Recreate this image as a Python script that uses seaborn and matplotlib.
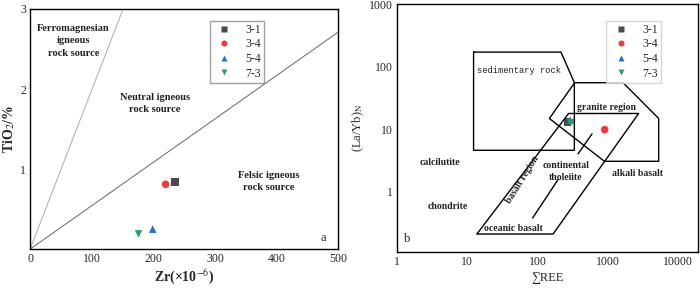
import numpy as np
import pandas as pd
import seaborn as sns
import matplotlib.pyplot as plt

sns.set_style("white")
plt.rcParams['font.family'] = ['Liberation Serif', 'DejaVu Serif']
plt.rcParams['mathtext.fontset'] = 'stix'

# Samples
samples = ['3-1', '3-4', '5-4', '7-3']
colors = ['#4a4a4a', '#ee3b3b', '#1f6fd6', '#26a269']
markers = ['s', 'o', '^', 'v']

# panel a: Zr vs TiO2
zr = [235, 220, 199, 176]
tio2 = [0.84, 0.81, 0.25, 0.19]

# panel b: sum REE vs (La/Yb)N
ree = [267, 898, 292, 297]
layb = [13.2, 9.9, 14.0, 12.7]

# discrimination lines for panel a
line_mafic_x = [0, 151]
line_mafic_y = [0, 3]
line_felsic_x = [0, 500]
line_felsic_y = [0, 2.71]

# fields for panel b
sed_x = [12.3, 215, 333, 333, 12.3, 12.3]
sed_y = [171, 171, 55.5, 4.63, 4.63, 171]
alk_x = [336, 1640, 5260, 5260, 889, 147, 336]
alk_y = [55.5, 55.5, 14.9, 3.09, 3.09, 14.9, 55.5]
bas_x = [276, 2730, 166, 13.7, 276]
bas_y = [17.9, 17.9, 0.213, 0.213, 17.9]
thol_x = [594, 376]
thol_y = [8.47, 4.06]
ocean_x = [195, 85]
ocean_y = [1.57, 0.384]

df_a = pd.DataFrame({'x': zr, 'y': tio2, 'sample': samples})
df_b = pd.DataFrame({'x': ree, 'y': layb, 'sample': samples})
pal = dict(zip(samples, colors))
mk = dict(zip(samples, markers))

fig = plt.figure(figsize=(7, 2.89), dpi=100)
ax1 = fig.add_axes([0.043, 0.138, 0.44, 0.831])
ax2 = fig.add_axes([0.567, 0.128, 0.43, 0.858])

# ---- panel a
ax1.plot(line_mafic_x, line_mafic_y, color='#aaaaaa', lw=0.7)
ax1.plot(line_felsic_x, line_felsic_y, color='#666666', lw=0.7)
sns.scatterplot(data=df_a, x='x', y='y', hue='sample', style='sample',
                palette=pal, markers=mk, s=30, edgecolor='none', ax=ax1)
ax1.set_xlim(0, 500)
ax1.set_ylim(0, 3)
ax1.set_xticks([0, 100, 200, 300, 400, 500])
ax1.set_yticks([1, 2, 3])
ax1.set_xlabel('Zr(×10$^{-6}$)', fontweight='bold', fontsize=10, labelpad=2)
ax1.set_ylabel('TiO$_2$/%', fontweight='bold', fontsize=10, labelpad=2)
kw = dict(fontsize=7.5, fontweight='bold', ha='center', va='center',
          color='#222222', linespacing=1.45)
ax1.text(70, 2.6, 'Ferromagnesian\nigneous\nrock source', **kw)
ax1.text(203, 1.82, 'Neutral igneous\nrock source', **kw)
ax1.text(387, 0.84, 'Felsic igneous\nrock source', **kw)
ax1.text(476, 0.14, 'a', fontsize=9, ha='center', va='center')
ax1.legend(loc='upper right', bbox_to_anchor=(0.78, 0.975), fontsize=8.5,
           frameon=True, fancybox=False, edgecolor='#888888',
           handletextpad=0.8, borderpad=0.25, labelspacing=0.22, markerscale=0.8)

# ---- panel b
for xs, ys in [(sed_x, sed_y), (alk_x, alk_y), (bas_x, bas_y),
               (thol_x, thol_y), (ocean_x, ocean_y)]:
    ax2.plot(xs, ys, color='black', lw=1.0)
sns.scatterplot(data=df_b, x='x', y='y', hue='sample', style='sample',
                palette=pal, markers=mk, s=30, edgecolor='none', ax=ax2)
ax2.set_xscale('log')
ax2.set_yscale('log')
ax2.set_xlim(1, 19000)
ax2.set_ylim(0.11, 1000)
ax2.set_xticks([1, 10, 100, 1000, 10000])
ax2.set_xticklabels(['1', '10', '100', '1000', '10000'])
ax2.set_yticks([1, 10, 100, 1000])
ax2.set_yticklabels(['1', '10', '100', '1000'])
ax2.minorticks_off()
ax2.set_xlabel('∑REE', fontsize=9, labelpad=3)
ax2.set_ylabel('(La/Yb)$_{\\rm N}$', fontsize=9, labelpad=2)
kb = dict(fontsize=7, fontweight='bold', ha='center', va='center',
          color='#222222', linespacing=1.45)
ax2.text(55, 87, 'sedimentary rock', fontsize=6.3, ha='center', va='center',
         family=['Liberation Mono', 'DejaVu Sans Mono'], color='#222222')
ax2.text(950, 22, 'granite region', **kb)
ax2.text(4.1, 3.0, 'calcilutite', **kb)
ax2.text(5.3, 0.59, 'chondrite', **kb)
ax2.text(253, 2.09, 'continental\ntholeiite', **kb)
ax2.text(2590, 2.0, 'alkali basalt', **kb)
ax2.text(45.6, 0.26, 'oceanic basalt', **kb)
ax2.text(61, 1.57, 'basalt region', rotation=58, **kb)
ax2.text(1.41, 0.18, 'b', fontsize=9, ha='center', va='center')
ax2.legend(loc='upper right', bbox_to_anchor=(0.896, 0.956), fontsize=8.5,
           frameon=True, fancybox=False, edgecolor='#cccccc',
           handletextpad=0.8, borderpad=0.25, labelspacing=0.22, markerscale=0.8)

for ax in (ax1, ax2):
    ax.tick_params(direction='in', length=3, labelsize=8.5, pad=3)
    for sp in ax.spines.values():
        sp.set_linewidth(1.0)
        sp.set_color('black')

fig.savefig('out.png', dpi=100)
